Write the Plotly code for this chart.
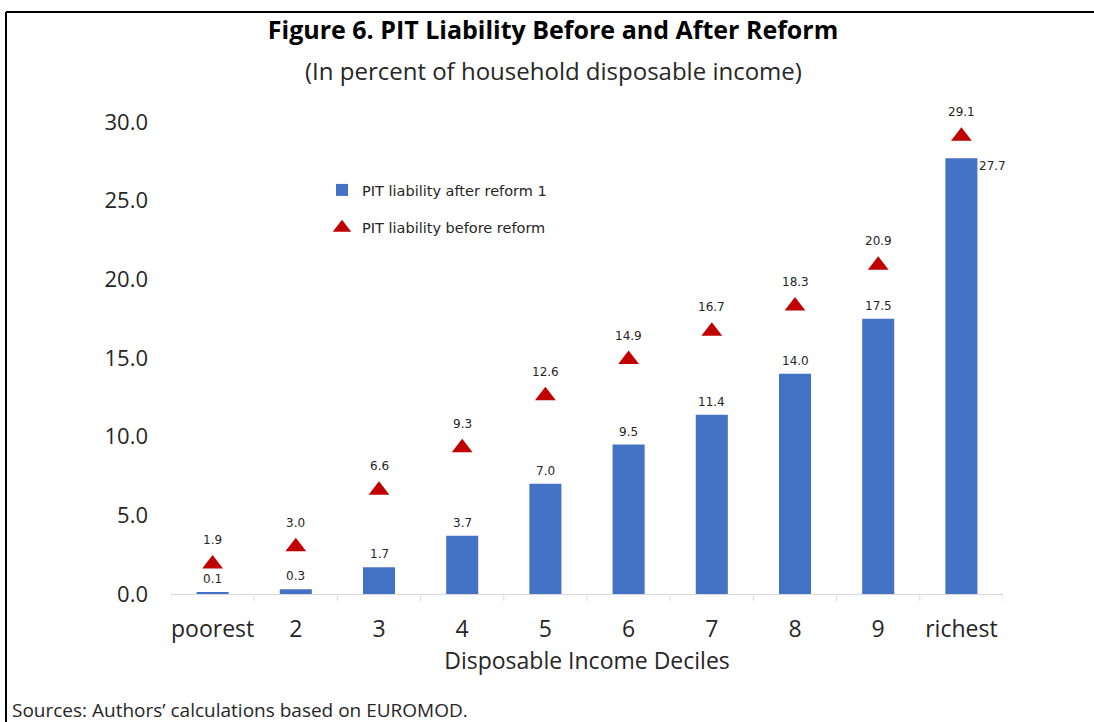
import plotly.graph_objects as go

categories = ["poorest", "2", "3", "4", "5", "6", "7", "8", "9", "richest"]
after_reform = [0.1, 0.3, 1.7, 3.7, 7.0, 9.5, 11.4, 14.0, 17.5, 27.7]
before_reform = [1.9, 3.0, 6.6, 9.3, 12.6, 14.9, 16.7, 18.3, 20.9, 29.1]
y_ticks = [0, 5, 10, 15, 20, 25, 30]

BAR = "#4472C4"
TRI = "#C00000"
TXT = "#262626"
FONT = "Open Sans"
LBL = "DejaVu Sans"

W, H = 1094, 722
L, R, T, B = 171, 1003, 122, 594

idx = list(range(len(categories)))

fig = go.Figure()
fig.add_trace(go.Bar(
    x=idx, y=after_reform, name="PIT liability after reform 1",
    marker=dict(color=BAR, line=dict(width=0)), width=0.385,
    legendgroup="a",
))
fig.add_trace(go.Scatter(
    x=idx, y=before_reform, name="PIT liability before reform",
    mode="markers", marker=dict(symbol="triangle-up", size=18, color=TRI),
    legendgroup="b",
))

annotations = []
for i, v in zip(idx, after_reform):
    if i == len(categories) - 1:
        annotations.append(dict(x=i, y=v, xref="x", yref="y", text=f"{v:.1f}",
                                showarrow=False, xshift=31, yshift=-8,
                                font=dict(family=LBL, size=12, color=TXT)))
    else:
        annotations.append(dict(x=i, y=v, xref="x", yref="y", text=f"{v:.1f}",
                                showarrow=False, yshift=13,
                                font=dict(family=LBL, size=12, color=TXT)))
for i, v in zip(idx, before_reform):
    annotations.append(dict(x=i, y=v, xref="x", yref="y", text=f"{v:.1f}",
                            showarrow=False, yshift=24,
                            font=dict(family=LBL, size=12, color=TXT)))

pw, ph = R - L, B - T
def px(x):
    return (x - L) / pw
def py(y):
    return (B - y) / ph

annotations.append(dict(x=px(553), y=py(71), xref="paper", yref="paper",
                        text="(In percent of household disposable income)", showarrow=False,
                        xanchor="center", yanchor="middle",
                        font=dict(family=FONT, size=24, color=TXT)))
annotations.append(dict(x=px(10), y=py(710), xref="paper", yref="paper",
                        text="Sources: Authors\u2019 calculations based on EUROMOD.", showarrow=False,
                        xanchor="left", yanchor="middle",
                        font=dict(family=FONT, size=19, color=TXT)))

fig.update_layout(
    width=W, height=H,
    margin=dict(l=L, r=W - R, t=T, b=H - B, pad=0),
    paper_bgcolor="white", plot_bgcolor="white",
    title=dict(text="<b>Figure 6. PIT Liability Before and After Reform</b>",
               x=553 / W, xanchor="center",
               y=1 - 30 / H, yanchor="middle", yref="container",
               font=dict(family=FONT, size=25, color="black")),
    showlegend=True,
    legend=dict(x=px(322), y=py(174), xanchor="left", yanchor="top",
                font=dict(family=LBL, size=14.5, color=TXT),
                bgcolor="rgba(0,0,0,0)", tracegroupgap=16, itemwidth=30,
                traceorder="grouped"),
    annotations=annotations,
    xaxis=dict(
        tickmode="array", tickvals=idx, ticktext=categories,
        showline=True, linecolor="#D9D9D9", linewidth=1,
        ticks="", showgrid=False, zeroline=False,
        tickfont=dict(family=FONT, size=23, color=TXT), ticklabelstandoff=14,
        title=dict(text="Disposable Income Deciles", standoff=10,
                   font=dict(family=FONT, size=23, color=TXT)),
        range=[-0.5, 9.5],
    ),
    yaxis=dict(
        range=[0, 30], tickvals=y_ticks, tickformat=".1f", showgrid=False,
        zeroline=False, showline=False, ticks="",
        tickfont=dict(family=FONT, size=22, color=TXT), ticklabelstandoff=22,
    ),
)

shapes = []
for k in range(len(categories) + 1):
    shapes.append(dict(type="line", xref="x", yref="paper", x0=k - 0.5, x1=k - 0.5,
                       y0=0, y1=py(B + 7), line=dict(color="#D9D9D9", width=1)))
shapes.append(dict(type="line", xref="paper", yref="paper", x0=px(6), x1=px(1100),
                   y0=py(12), y1=py(12), line=dict(color="black", width=2)))
shapes.append(dict(type="line", xref="paper", yref="paper", x0=px(6), x1=px(6),
                   y0=py(12), y1=py(730), line=dict(color="black", width=2)))
fig.update_layout(shapes=shapes)
fig.update_traces(cliponaxis=False)

fig.write_html("out.html", config={"displayModeBar": False},
               post_script="document.body.style.margin='0';")
